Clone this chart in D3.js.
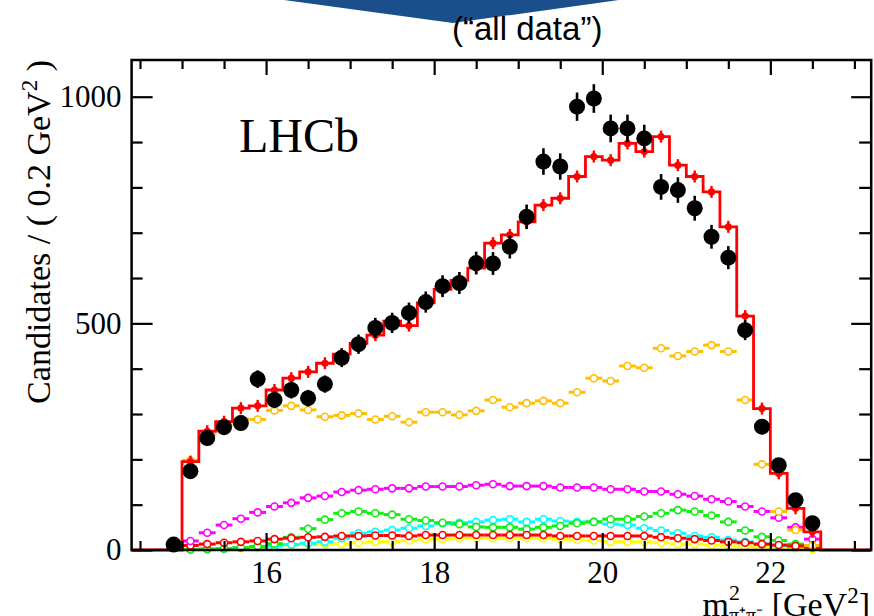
<!DOCTYPE html>
<html>
<head>
<meta charset="utf-8">
<script src="https://cdn.jsdelivr.net/npm/d3@7/dist/d3.min.js"></script>
<style>
  html, body { margin: 0; padding: 0; background: #fff; }
  svg { display: block; }
  .serif { font-family: "Liberation Serif", "Times New Roman", serif; }
</style>
</head>
<body>
<svg id="chart" width="874" height="616"></svg>
<script>
// Bin centres of the m^2(pi+pi-) histogram, 0.2 GeV^2 wide bins
const massCenters = [14.9, 15.1, 15.3, 15.5, 15.7, 15.9, 16.1, 16.3, 16.5, 16.7,
  16.9, 17.1, 17.3, 17.5, 17.7, 17.9, 18.1, 18.3, 18.5, 18.7,
  18.9, 19.1, 19.3, 19.5, 19.7, 19.9, 20.1, 20.3, 20.5, 20.7,
  20.9, 21.1, 21.3, 21.5, 21.7, 21.9, 22.1, 22.3, 22.5];
const binWidth = 0.2;

// Candidates per bin
const dataCounts = [12, 174, 247, 271, 280, 377, 331, 353, 335, 366,
  424, 454, 490, 501, 523, 547, 582, 589, 633, 632,
  669, 735, 857, 846, 978, 996, 930, 930, 908, 801,
  794, 754, 691, 645, 485, 272, 187, 110, 59];

// Total fit model
const totalFit = [0, 195, 262, 283, 313, 318, 353, 379, 393, 412,
  432, 456, 474, 505, 495, 545, 575, 595, 622, 677,
  695, 724, 761, 776, 824, 868, 860, 897, 879, 912,
  849, 824, 790, 713, 516, 312, 169, 92, 40];

// Individual fit components
const compGold = [0, 198, 255, 275, 289, 288, 308, 318, 309, 294,
  297, 301, 288, 295, 282, 304, 304, 298, 307, 331,
  315, 324, 329, 324, 348, 379, 373, 406, 402, 445,
  428, 438, 452, 438, 331, 189, 85, 44, 10];
const compMagenta = [0, 20, 38, 55, 69, 83, 96, 104, 115, 119,
  128, 132, 134, 136, 136, 140, 140, 140, 143, 145,
  141, 141, 141, 138, 138, 138, 134, 134, 129, 129,
  123, 119, 112, 107, 96, 85, 71, 50, 24];
const compGreen = [0, 1, 2, 3, 5, 8, 14, 28, 47, 67,
  81, 85, 81, 78, 68, 65, 60, 57, 51, 50,
  50, 46, 50, 53, 59, 62, 68, 68, 74, 81,
  88, 85, 76, 62, 43, 29, 21, 13, 6];
const compCyan = [0, 1, 2, 3, 5, 7, 9, 12, 15, 18,
  26, 37, 40, 44, 48, 53, 59, 60, 62, 66,
  68, 62, 68, 64, 62, 62, 57, 55, 48, 43,
  37, 31, 28, 22, 18, 13, 10, 8, 6];
const compRed = [0, 10, 13, 16, 18, 20, 24, 26, 28, 29,
  31, 31, 32, 32, 31, 33, 33, 33, 33, 33,
  33, 33, 33, 31, 31, 31, 31, 31, 31, 28,
  26, 24, 21, 18, 16, 13, 11, 9, 6];
const compYellow = [0, 1, 2, 3, 4, 6, 9, 11, 13, 13,
  13, 16, 18, 18, 21, 24, 24, 26, 26, 26,
  26, 26, 26, 24, 22, 21, 18, 18, 18, 16,
  13, 13, 11, 9, 8, 6, 6, 4, 2];

const xMajorTicks = [16, 18, 20, 22];
const yMajorTicks = [0, 500, 1000];

const svg = d3.select("#chart");
const x = d3.scaleLinear().domain([14.4, 23.2]).range([131.6, 871.2]);
const y = d3.scaleLinear().domain([0, 1081]).range([550, 60]);
const [x0, x1] = x.range();
const [yb, yt] = y.range();

// Banner shape and caption above the plot
svg.append("polygon")
  .attr("points", "284,0 619,0 453,23")
  .attr("fill", "#1a4f8b");
svg.append("text")
  .attr("x", 452).attr("y", 39.5)
  .attr("font-family", "'Liberation Sans', Arial, sans-serif")
  .attr("font-size", 33)
  .attr("fill", "#000")
  .text("(\u201Call data\u201D)");

const plot = svg.append("g");

// Fit components: bin-wide horizontal bar, small error bar, open marker
const components = [
  { values: compYellow, color: "#ffff00" },
  { values: compCyan, color: "#00ffff" },
  { values: compGreen, color: "#11ee11" },
  { values: compRed, color: "#ff0000" },
  { values: compMagenta, color: "#ff00ff" },
  { values: compGold, color: "#ffbf00" }
];
const compErr = 8;

components.forEach(c => {
  const pts = massCenters.map((m, i) => ({ m, v: c.values[i] })).filter(d => d.v > 0);
  const g = plot.append("g");
  g.selectAll("line.h").data(pts).join("line")
    .attr("x1", d => x(d.m - binWidth / 2)).attr("x2", d => x(d.m + binWidth / 2))
    .attr("y1", d => y(d.v)).attr("y2", d => y(d.v))
    .attr("stroke", c.color).attr("stroke-width", 3);
  g.selectAll("line.v").data(pts).join("line")
    .attr("x1", d => x(d.m)).attr("x2", d => x(d.m))
    .attr("y1", d => y(Math.max(0, d.v - compErr))).attr("y2", d => y(d.v + compErr))
    .attr("stroke", c.color).attr("stroke-width", 2.2);
  g.selectAll("circle").data(pts).join("circle")
    .attr("cx", d => x(d.m)).attr("cy", d => y(d.v)).attr("r", 3.5)
    .attr("fill", "#fff").attr("stroke", c.color).attr("stroke-width", 1.6);
});

// Total fit as a step histogram spanning the full axis range
const stepPts = [[x.domain()[0], 0], [massCenters[0] - binWidth / 2, 0]];
massCenters.forEach((m, i) => {
  stepPts.push([m - binWidth / 2, totalFit[i]]);
  stepPts.push([m + binWidth / 2, totalFit[i]]);
});
stepPts.push([massCenters[massCenters.length - 1] + binWidth / 2, 0]);
stepPts.push([x.domain()[1], 0]);
plot.append("path")
  .attr("d", d3.line().x(d => x(d[0])).y(d => y(d[1]))(stepPts))
  .attr("fill", "none").attr("stroke", "#ff0000").attr("stroke-width", 2.8)
  .attr("stroke-linejoin", "miter");

const totalPts = massCenters.map((m, i) => ({ m, v: totalFit[i] })).filter(d => d.v > 0);
plot.append("g").selectAll("line").data(totalPts).join("line")
  .attr("x1", d => x(d.m)).attr("x2", d => x(d.m))
  .attr("y1", d => y(d.v) + 6).attr("y2", d => y(d.v) - 6)
  .attr("stroke", "#ff0000").attr("stroke-width", 2.4);
plot.append("g").selectAll("circle").data(totalPts).join("circle")
  .attr("cx", d => x(d.m)).attr("cy", d => y(d.v)).attr("r", 3.6)
  .attr("fill", "#ff0000");

// Data points with Poisson error bars
const dataPts = massCenters.map((m, i) => ({ m, v: dataCounts[i] }));
plot.append("g").selectAll("line").data(dataPts).join("line")
  .attr("x1", d => x(d.m)).attr("x2", d => x(d.m))
  .attr("y1", d => y(Math.max(0, d.v - Math.sqrt(d.v))))
  .attr("y2", d => y(d.v + Math.sqrt(d.v)))
  .attr("stroke", "#000").attr("stroke-width", 2.6);
plot.append("g").selectAll("circle").data(dataPts).join("circle")
  .attr("cx", d => x(d.m)).attr("cy", d => y(d.v)).attr("r", 8)
  .attr("fill", "#000");

// Axes with inward ticks on all four sides
const xMinor = d3.range(14.5, 23.2, 0.5).filter(v => !xMajorTicks.includes(v));
const yMinor = d3.range(100, 1081, 100).filter(v => !yMajorTicks.includes(v));

function styleAxis(g) {
  g.select(".domain").remove();
  g.selectAll(".tick line").attr("stroke", "#000").attr("stroke-width", 2.2);
}

// bottom
svg.append("g").attr("transform", `translate(0,${yb})`)
  .call(d3.axisBottom(x).tickValues(xMinor).tickSize(-9).tickFormat(""))
  .call(styleAxis);
const xb = svg.append("g").attr("transform", `translate(0,${yb})`)
  .call(d3.axisBottom(x).tickValues(xMajorTicks).tickSize(-17).tickFormat(d3.format("d")))
  .call(styleAxis);
xb.selectAll(".tick text")
  .attr("y", 33).attr("dy", 0)
  .attr("class", "serif").attr("font-size", 31).attr("fill", "#000");

// top
svg.append("g").attr("transform", `translate(0,${yt})`)
  .call(d3.axisTop(x).tickValues(xMinor).tickSize(-9).tickFormat(""))
  .call(styleAxis);
svg.append("g").attr("transform", `translate(0,${yt})`)
  .call(d3.axisTop(x).tickValues(xMajorTicks).tickSize(-15).tickFormat(""))
  .call(styleAxis);

// left
svg.append("g").attr("transform", `translate(${x0},0)`)
  .call(d3.axisLeft(y).tickValues(yMinor).tickSize(-11).tickFormat(""))
  .call(styleAxis);
const yl = svg.append("g").attr("transform", `translate(${x0},0)`)
  .call(d3.axisLeft(y).tickValues(yMajorTicks).tickSize(-21).tickPadding(10).tickFormat(d3.format("d")))
  .call(styleAxis);
yl.selectAll(".tick text")
  .attr("class", "serif").attr("font-size", 31).attr("fill", "#000");

// right
svg.append("g").attr("transform", `translate(${x1},0)`)
  .call(d3.axisRight(y).tickValues(yMinor).tickSize(-12).tickFormat(""))
  .call(styleAxis);
svg.append("g").attr("transform", `translate(${x1},0)`)
  .call(d3.axisRight(y).tickValues(yMajorTicks).tickSize(-20).tickFormat(""))
  .call(styleAxis);

// Frame
svg.append("rect")
  .attr("x", x0).attr("y", yt).attr("width", x1 - x0).attr("height", yb - yt)
  .attr("fill", "none").attr("stroke", "#000").attr("stroke-width", 2.5);

// Axis titles
const yTitle = svg.append("text")
  .attr("class", "serif").attr("font-size", 34).attr("fill", "#000")
  .attr("text-anchor", "end")
  .attr("transform", `translate(50,${yt}) rotate(-90)`);
yTitle.append("tspan").text("Candidates / ( 0.2 GeV");
yTitle.append("tspan").attr("font-size", 23).attr("dy", -13).text("2");
yTitle.append("tspan").attr("dy", 13).text(" )");

const xTitle = svg.append("text")
  .attr("class", "serif").attr("font-size", 34).attr("fill", "#000")
  .attr("text-anchor", "end")
  .attr("x", 870).attr("y", 616);
xTitle.append("tspan").text("m");
xTitle.append("tspan").attr("font-size", 22).attr("dy", -16).text("2");
xTitle.append("tspan").attr("font-size", 20).attr("dx", -11).attr("dy", 22).text("\u03C0\u207A\u03C0\u207B");
xTitle.append("tspan").attr("dy", -6).text(" [GeV");
xTitle.append("tspan").attr("font-size", 23).attr("dy", -13).text("2");
xTitle.append("tspan").attr("dy", 13).text("]");

// Experiment label
svg.append("text")
  .attr("class", "serif").attr("font-size", 48).attr("fill", "#000")
  .attr("x", 239).attr("y", 152)
  .text("LHCb");
</script>
</body>
</html>
